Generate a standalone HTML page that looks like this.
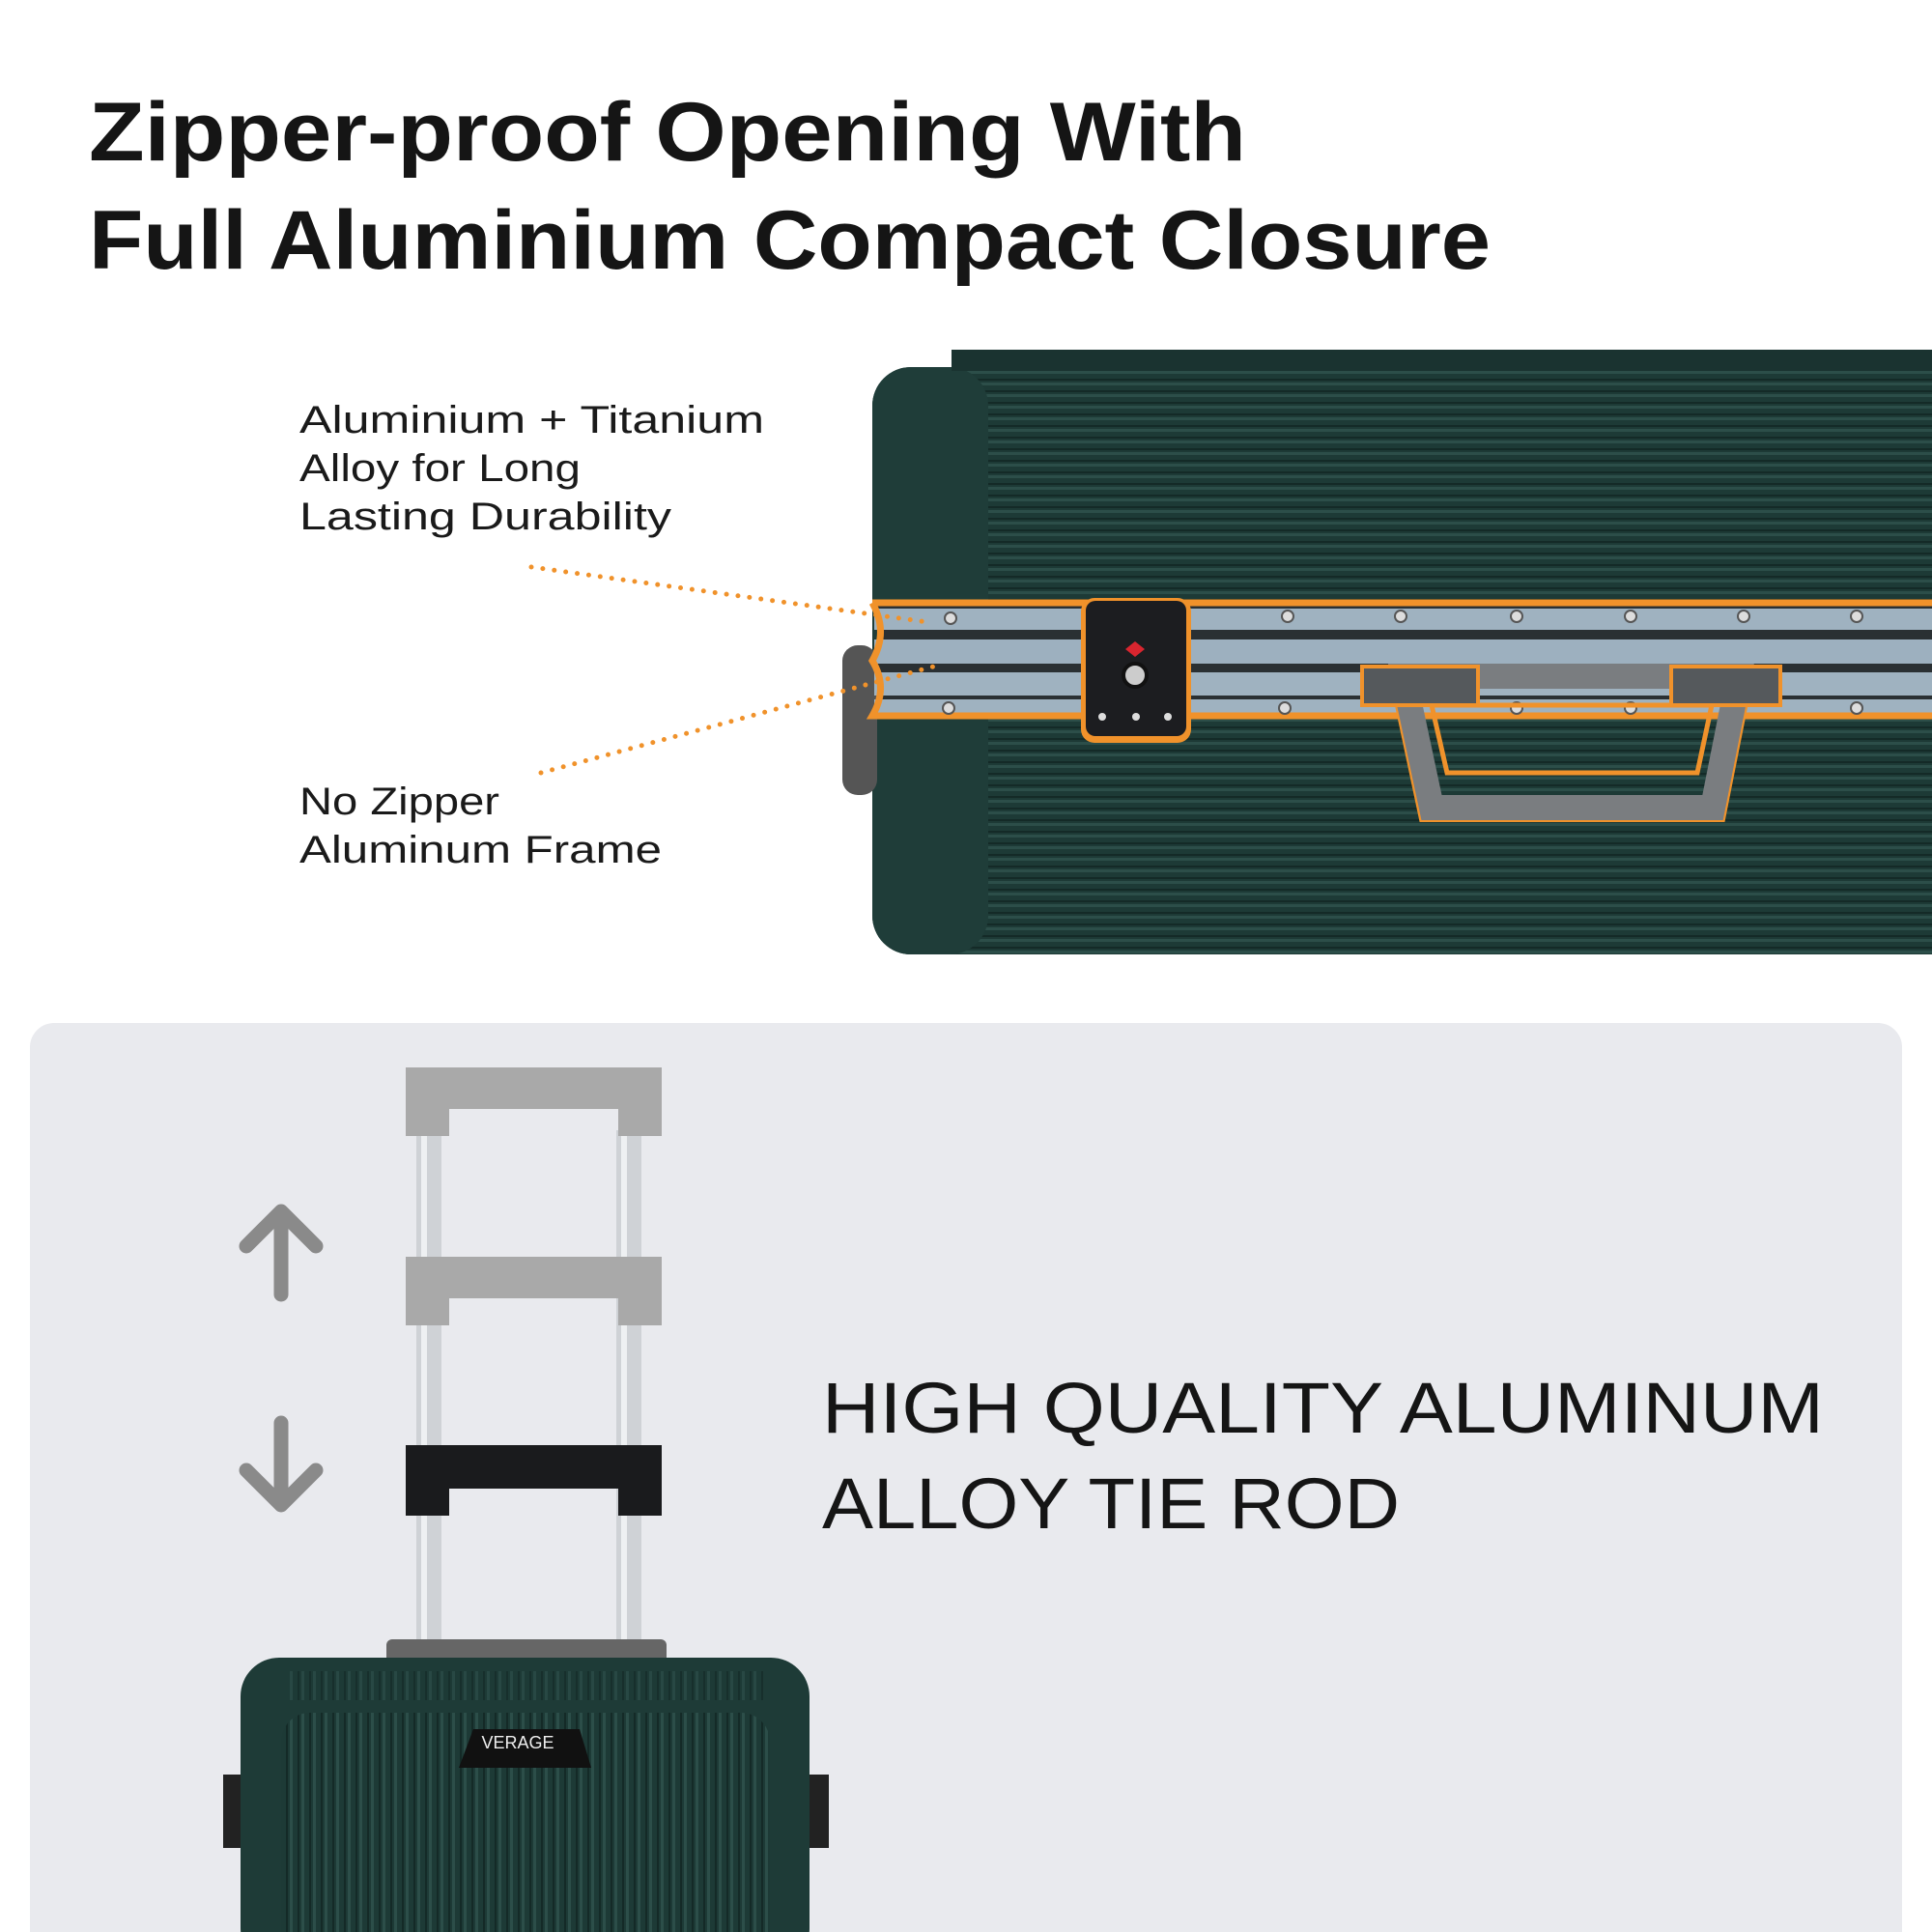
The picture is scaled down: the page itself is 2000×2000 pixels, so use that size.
<!DOCTYPE html>
<html><head><meta charset="utf-8"><style>
html,body{margin:0;padding:0;background:#fff}
svg{display:block}
text{font-family:"Liberation Sans",sans-serif}
</style></head><body>
<svg width="2000" height="2000" viewBox="0 0 2000 2000" xmlns="http://www.w3.org/2000/svg">
<defs>
<pattern id="stripes" width="20" height="12" patternUnits="userSpaceOnUse">
<rect width="20" height="12" fill="#1d3a36"/>
<rect y="0" width="20" height="3" fill="#2c4e49"/>
<rect y="8" width="20" height="2" fill="#142a27"/>
</pattern>
<pattern id="vstripes" width="12" height="20" patternUnits="userSpaceOnUse">
<rect width="12" height="20" fill="#1d3a36"/>
<rect x="0" width="3" height="20" fill="#2c4e49"/>
<rect x="8" width="2" height="20" fill="#142a27"/>
</pattern>
</defs>
<rect width="2000" height="2000" fill="#fff"/>
<text x="92" y="166" font-size="86" font-weight="bold" fill="#151515" textLength="1198" lengthAdjust="spacingAndGlyphs">Zipper-proof Opening With</text>
<text x="92" y="278" font-size="86" font-weight="bold" fill="#151515" textLength="1451" lengthAdjust="spacingAndGlyphs">Full Aluminium Compact Closure</text>

<!-- top suitcase -->
<rect x="903" y="380" width="1150" height="608" rx="40" fill="url(#stripes)"/>
<rect x="903" y="380" width="120" height="608" rx="40" fill="#1f3d39"/>
<rect x="985" y="362" width="1015" height="22" fill="#1a3330"/>
<rect x="872" y="668" width="36" height="155" rx="16" fill="#555"/>
<path d="M903 624 L2000 624 L2000 741 L903 741 Q920 712 903 684 Q920 654 903 624 Z" fill="#2a3033"/>
<rect x="905" y="630" width="1095" height="22" fill="#9fb2c0"/>
<rect x="905" y="662" width="1095" height="25" fill="#9db0bf"/>
<rect x="905" y="696" width="1095" height="24" fill="#9fb2c0"/>
<rect x="905" y="724" width="1095" height="16" fill="#9fb2c0"/>
<path d="M903 624 L2000 624 M2000 741 L903 741 Q920 712 903 684 Q920 654 903 624" fill="none" stroke="#f0922b" stroke-width="7"/>
<g fill="#ddd" stroke="#555" stroke-width="2">
<circle cx="984" cy="640" r="6"/><circle cx="1333" cy="638" r="6"/><circle cx="1450" cy="638" r="6"/><circle cx="1570" cy="638" r="6"/><circle cx="1688" cy="638" r="6"/><circle cx="1805" cy="638" r="6"/><circle cx="1922" cy="638" r="6"/>
<circle cx="982" cy="733" r="6"/><circle cx="1330" cy="733" r="6"/><circle cx="1570" cy="733" r="6"/><circle cx="1688" cy="733" r="6"/><circle cx="1922" cy="733" r="6"/>
</g>
<rect x="1119" y="619" width="114" height="150" rx="14" fill="#f0922b"/>
<rect x="1124" y="622" width="104" height="140" rx="10" fill="#1c1d20"/>
<path d="M1175 664 l10 8 l-10 8 l-10 -8z" fill="#d9252f"/>
<circle cx="1175" cy="699" r="12" fill="#ccc" stroke="#111" stroke-width="4"/>
<circle cx="1141" cy="742" r="4" fill="#ddd"/><circle cx="1176" cy="742" r="4" fill="#ddd"/><circle cx="1209" cy="742" r="4" fill="#ddd"/>
<path d="M1440 697 L1813 697 L1783 848 L1472 848 Z" fill="none" stroke="#f0922b" stroke-width="6"/>
<path d="M1453 700 L1800 700 L1773 836 L1482 836 Z" fill="none" stroke="#7a7d80" stroke-width="26"/>
<path d="M1482 730 L1772 730 L1757 800 L1498 800 Z" fill="none" stroke="#f0922b" stroke-width="5"/>
<rect x="1410" y="690" width="120" height="40" fill="#55595c" stroke="#f0922b" stroke-width="4"/>
<rect x="1730" y="690" width="113" height="40" fill="#55595c" stroke="#f0922b" stroke-width="4"/>
<g font-size="40" fill="#1a1a1a">
<text x="310" y="448" textLength="481" lengthAdjust="spacingAndGlyphs">Aluminium + Titanium</text>
<text x="310" y="498" textLength="291" lengthAdjust="spacingAndGlyphs">Alloy for Long</text>
<text x="310" y="548" textLength="385" lengthAdjust="spacingAndGlyphs">Lasting Durability</text>
<text x="310" y="843" textLength="207" lengthAdjust="spacingAndGlyphs">No Zipper</text>
<text x="310" y="893" textLength="375" lengthAdjust="spacingAndGlyphs">Aluminum Frame</text>
</g>
<line x1="550" y1="587" x2="960" y2="644" stroke="#f0922b" stroke-width="5" stroke-dasharray="0 12" stroke-linecap="round"/>
<line x1="560" y1="800" x2="970" y2="689" stroke="#f0922b" stroke-width="5" stroke-dasharray="0 12" stroke-linecap="round"/>

<rect x="31" y="1059" width="1938" height="980" rx="25" fill="#e9eaee"/>
<text x="851" y="1483" font-size="74" fill="#151515" textLength="1037" lengthAdjust="spacingAndGlyphs">HIGH QUALITY ALUMINUM</text>
<text x="851" y="1582" font-size="74" fill="#151515" textLength="598" lengthAdjust="spacingAndGlyphs">ALLOY TIE ROD</text>
<g stroke="#8a8a8a" stroke-width="15" fill="none" stroke-linecap="round" stroke-linejoin="round">
<path d="M291 1340 L291 1255 M255 1290 L291 1254 L327 1290"/>
<path d="M291 1473 L291 1558 M255 1522 L291 1558 L327 1522"/>
</g>
<rect x="431" y="1170" width="26" height="545" fill="#c8ccd0" opacity="0.8"/>
<rect x="638" y="1170" width="26" height="545" fill="#c8ccd0" opacity="0.8"/>
<rect x="436" y="1170" width="6" height="545" fill="#eef0f2"/>
<rect x="643" y="1170" width="6" height="545" fill="#eef0f2"/>
<g fill="#a9a9a9">
<path d="M420 1105 H685 V1176 H640 V1148 H465 V1176 H420 Z"/>
<path d="M420 1301 H685 V1372 H640 V1344 H465 V1372 H420 Z"/>
</g>
<path d="M420 1496 H685 V1569 H640 V1541 H465 V1569 H420 Z" fill="#1a1b1d"/>
<rect x="400" y="1697" width="290" height="25" rx="6" fill="#666"/>
<rect x="231" y="1837" width="22" height="76" fill="#222"/>
<rect x="836" y="1837" width="22" height="76" fill="#222"/>
<rect x="249" y="1716" width="589" height="320" rx="40" fill="#1e3b37"/>
<rect x="291" y="1773" width="506" height="260" rx="30" fill="url(#vstripes)"/>
<rect x="300" y="1730" width="490" height="30" fill="url(#vstripes)" opacity="0.7"/>
<path d="M490 1790 H600 L612 1830 H475 Z" fill="#111"/>
<text x="536" y="1810" font-size="18" fill="#eee" text-anchor="middle">VERAGE</text>
</svg>
</body></html>
